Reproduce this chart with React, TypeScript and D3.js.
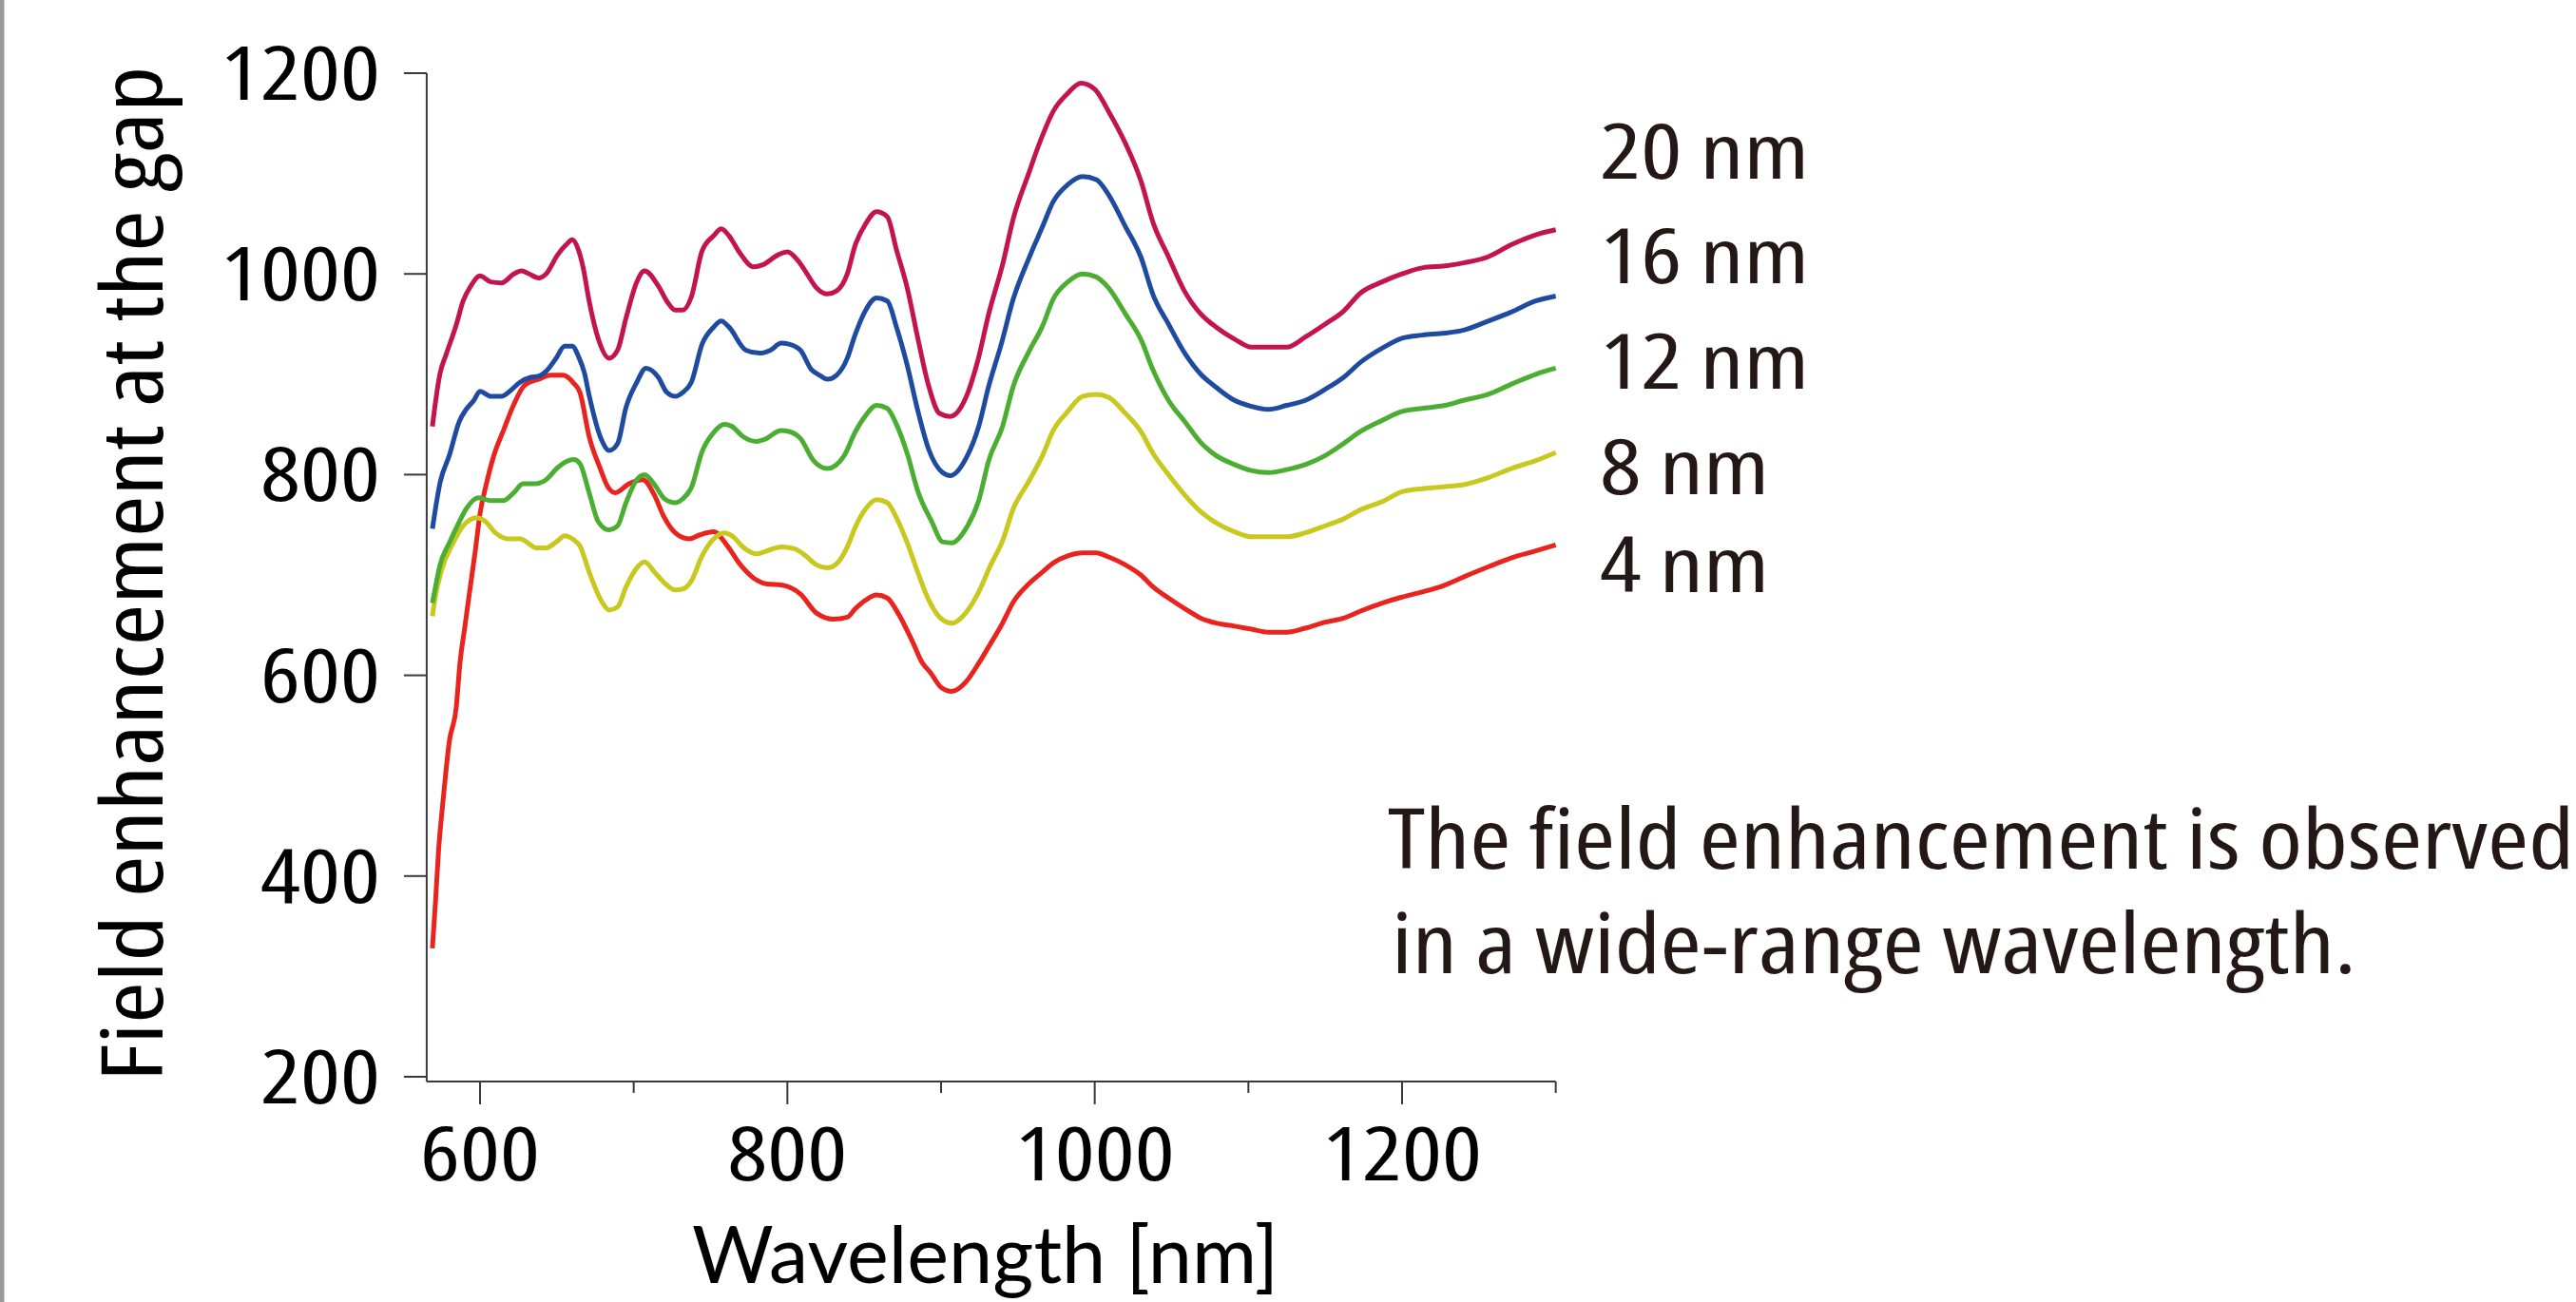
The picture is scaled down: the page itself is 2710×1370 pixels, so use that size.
import * as d3 from 'd3';

// wavelength [nm], field enhancement at the gap
const gap20nm: [number, number][] = [
  [569, 848], [571, 872], [574, 901], [578, 920], [584.5, 949], [589, 973], [594, 988], [600, 998],
  [607, 992], [614, 991], [622, 1000], [627, 1003], [632, 1000], [638, 996], [643, 1000], [650.5, 1019],
  [656, 1029], [660, 1034], [664, 1024], [667, 1007], [671, 973], [677, 935], [684, 916], [689.5, 924],
  [695, 956], [702, 992], [707, 1003], [716, 988], [721.5, 973], [727, 964], [732, 964], [737.5, 977],
  [744.5, 1023], [752, 1038], [757, 1045], [762, 1038], [769, 1021], [778, 1007], [784, 1009], [794, 1019],
  [800, 1022], [807, 1013], [812, 1002], [819, 986], [826, 980], [832, 983], [839, 1000], [844, 1028],
  [851, 1050], [858, 1062], [865, 1057], [871, 1024], [878, 986], [885, 935], [892, 888], [899, 861],
  [906, 858], [916.5, 878], [924, 914], [931, 960], [940, 1009], [947, 1055], [957, 1100], [965, 1134],
  [973, 1162], [982.5, 1180], [991, 1190], [1000, 1184], [1009, 1162], [1020, 1130], [1030, 1093],
  [1038, 1051], [1048, 1017], [1058, 984], [1069, 960], [1079, 947], [1091, 935], [1102, 927],
  [1125, 927], [1137, 937], [1150, 950], [1162, 963], [1173, 981], [1187, 992], [1200, 1000],
  [1213, 1006], [1228, 1008], [1240, 1011], [1256, 1017], [1271, 1029], [1287, 1039], [1300, 1044],
];

const gap16nm: [number, number][] = [
  [569, 746], [571, 766], [574, 792], [580, 819], [586.5, 853], [591, 865], [596, 874], [600, 883],
  [607, 878], [614, 878], [620, 884], [626, 892], [633, 897], [638, 898], [643, 903], [649.5, 916],
  [655, 928], [660, 928], [664, 918], [668, 901], [671, 879], [679, 835], [684, 824], [689.5, 831],
  [695, 867], [702, 892], [708, 906], [716, 897], [721.5, 882], [727, 878], [732, 882], [737.5, 892],
  [744.5, 930], [752, 947], [757, 953], [762, 947], [773, 924], [782, 921], [789, 924], [796, 931],
  [801, 930], [808.5, 924], [815.5, 905], [821, 899], [826, 895], [832, 899], [839, 916], [844, 939],
  [851, 964], [858, 976], [865, 973], [871, 947], [878, 909], [885, 863], [892, 825], [901, 802],
  [906, 799], [916.5, 817], [924.5, 848], [931, 888], [939, 929], [947, 975], [957, 1015], [966, 1047],
  [973, 1072], [982.5, 1089], [992, 1097], [1001, 1094], [1009, 1079], [1020, 1047], [1030, 1017],
  [1038, 979], [1048, 950], [1059, 920], [1069, 900], [1079, 887], [1091, 874], [1102, 868],
  [1113, 865], [1125, 869], [1137, 874], [1150, 885], [1162, 897], [1173, 912], [1187, 926],
  [1200, 936], [1213, 939], [1228, 941], [1240, 944], [1256, 953], [1271, 962], [1287, 973], [1300, 978],
];

const gap12nm: [number, number][] = [
  [569, 672], [571, 688], [574, 710], [580, 732], [586.5, 753], [591, 766], [599, 777], [607, 774],
  [615, 774], [622, 782], [628, 791], [636, 791], [643, 795], [650.5, 807], [656, 813], [661, 815],
  [665, 811], [671, 782], [677, 753], [684, 745], [689.5, 749], [695, 772], [702, 795], [707, 800],
  [714, 789], [720, 776], [727, 772], [732, 776], [737.5, 787], [744.5, 823], [752, 842], [759, 850],
  [764, 848], [771, 838], [780, 833], [785, 835], [796, 844], [801, 843], [808.5, 836], [817, 814],
  [826, 806], [837, 819], [844, 842], [851, 859], [858, 869], [865, 866], [871, 850], [878, 821],
  [885, 783], [894, 753], [901, 733], [907, 732], [916.5, 747], [924.5, 774], [931, 814], [940, 848],
  [947, 888], [957, 922], [966, 948], [973, 975], [982.5, 992], [992, 1000], [1001, 997], [1009, 986],
  [1020, 960], [1030, 935], [1038, 904], [1048, 874], [1059, 852], [1069, 832], [1079, 819],
  [1091, 810], [1102, 804], [1113, 802], [1125, 805], [1137, 810], [1150, 819], [1162, 831],
  [1173, 843], [1187, 854], [1200, 863], [1213, 866], [1228, 869], [1240, 874], [1256, 880],
  [1271, 890], [1287, 900], [1300, 906],
];

const gap8nm: [number, number][] = [
  [569, 659], [571, 679], [575, 705], [582.5, 732], [589, 749], [598, 757], [603, 754], [610, 742],
  [618.5, 736], [626, 736], [637, 727], [643, 727], [650.5, 734], [655, 739], [661, 735], [665, 729],
  [671, 703], [679, 674], [684, 665], [689.5, 668], [695, 688], [702, 707], [707, 713], [714, 702],
  [720, 692], [727, 685], [732, 686], [737.5, 694], [744.5, 719], [752, 736], [759, 742], [764, 739],
  [771, 728], [780, 721], [785, 723], [796, 728], [805, 726], [812, 719], [819, 710], [826, 707],
  [832, 711], [839, 728], [844, 747], [851, 766], [858, 775], [865, 772], [871, 757], [878, 732],
  [885, 702], [892, 675], [899, 658], [907, 652], [916.5, 663], [924.5, 683], [932, 709], [940, 734],
  [947, 766], [957, 793], [966, 819], [973, 844], [982.5, 863], [992, 878], [1001, 880], [1009, 877],
  [1020, 861], [1030, 843], [1038, 821], [1048, 800], [1059, 779], [1069, 763], [1079, 752],
  [1091, 743], [1102, 738], [1125, 738], [1137, 742], [1150, 749], [1162, 756], [1173, 765],
  [1187, 773], [1200, 783], [1213, 786], [1228, 788], [1240, 790], [1256, 797], [1271, 806],
  [1287, 814], [1300, 822],
];

const gap4nm: [number, number][] = [
  [569, 328], [571, 374], [573, 425], [576, 476], [580, 534], [584.5, 568], [587, 613], [590, 647],
  [593, 681], [597, 725], [600, 761], [604, 790], [609, 819], [615.5, 845], [622, 870], [629, 889],
  [638, 895], [646, 899], [654, 899], [661, 891], [665, 882], [671, 838], [678, 807], [683.5, 787],
  [688, 782], [697, 791], [706, 795], [713, 781], [720, 757], [727, 742], [736, 736], [743, 740],
  [752, 743], [760.5, 730], [769, 711], [778, 697], [787, 691], [796, 690], [808.5, 681], [819, 662],
  [830, 656], [839, 658], [844, 666], [851, 675], [858, 680], [865, 677], [872, 662], [881, 635],
  [888, 612], [893, 603], [900, 588], [907, 584], [916.5, 594], [924.5, 612], [932, 631], [940, 652],
  [947, 673], [957, 691], [966, 703], [973, 712], [982.5, 719], [992, 722], [1001, 722], [1009, 718],
  [1020, 710], [1030, 700], [1038, 688], [1048, 677], [1059, 666], [1069, 657], [1079, 652],
  [1091, 649], [1102, 646], [1113, 643], [1125, 643], [1137, 647], [1150, 653], [1162, 657],
  [1173, 664], [1187, 672], [1200, 678], [1213, 683], [1228, 690], [1240, 698], [1256, 708],
  [1271, 717], [1287, 724], [1300, 730],
];

const seriesLabels = ['20 nm', '16 nm', '12 nm', '8 nm', '4 nm'];
const seriesData = [gap20nm, gap16nm, gap12nm, gap8nm, gap4nm];
const seriesColors = ['#c4144f', '#1e4ba0', '#4bae32', '#c8c81e', '#e9231e'];

const yTicks = [200, 400, 600, 800, 1000, 1200];
const xMajorTicks = [600, 800, 1000, 1200];
const xMinorTicks = [700, 900, 1100, 1300];
const noteLines = ['The field enhancement is observed', 'in a wide-range wavelength.'];

const FONT = "'Open Sans', 'Noto Sans', sans-serif";
const STRETCH = { fontStretch: '87.5%' };

// the figure used a narrow face; widths are pinned so the text covers the same span
const digitWidth = 42;
const labelBaselines = [187.5, 298, 409, 520, 623];

export default function App() {
  const width = 2710;
  const height = 1370;

  const x = d3.scaleLinear().domain([600, 1200]).range([505, 1475]);
  const y = d3.scaleLinear().domain([200, 1200]).range([1133, 77]);

  const axisLeft = x(565.3);
  const axisBottom = y(195.3);
  const axisRight = x(1300);

  const line = d3
    .line<[number, number]>()
    .x((d) => x(d[0]))
    .y((d) => y(d[1]))
    .curve(d3.curveMonotoneX);

  // red (4 nm) underneath, 20 nm on top
  const order = [4, 3, 2, 1, 0];

  return (
    <svg
      width={width}
      height={height}
      viewBox={`0 0 ${width} ${height}`}
      style={{ position: 'absolute', left: 0, top: 0, background: '#fff' }}
    >
      <rect x={0} y={0} width={width} height={height} fill="#fff" />
      <rect x={0} y={0} width={4.5} height={height} fill="#9b9b9b" />

      {/* axes */}
      <g stroke="#3a3a3a" strokeWidth={2} fill="none">
        <line x1={axisLeft} x2={axisLeft} y1={y(1200)} y2={axisBottom} />
        <line x1={axisLeft} x2={axisRight} y1={axisBottom} y2={axisBottom} />
        {yTicks.map((t) => (
          <line key={'yt' + t} x1={axisLeft - 24} x2={axisLeft} y1={y(t)} y2={y(t)} />
        ))}
        {xMajorTicks.map((t) => (
          <line key={'xt' + t} x1={x(t)} x2={x(t)} y1={axisBottom} y2={axisBottom + 24} />
        ))}
        {xMinorTicks.map((t) => (
          <line key={'xm' + t} x1={x(t)} x2={x(t)} y1={axisBottom} y2={axisBottom + 12} />
        ))}
      </g>

      <g fontFamily={FONT} fontSize={79} fill="#000" style={STRETCH}>
        {yTicks.map((t) => (
          <text
            key={'yl' + t}
            x={400}
            y={y(t) + 28}
            textAnchor="end"
            textLength={String(t).length * digitWidth}
            lengthAdjust="spacingAndGlyphs"
          >
            {t}
          </text>
        ))}
        {xMajorTicks.map((t) => (
          <text
            key={'xl' + t}
            x={x(t)}
            y={1242}
            textAnchor="middle"
            textLength={String(t).length * digitWidth}
            lengthAdjust="spacingAndGlyphs"
          >
            {t}
          </text>
        ))}
      </g>

      {/* axis titles */}
      <text
        transform="translate(170.5,604) rotate(-90)"
        textAnchor="middle"
        fontFamily={FONT}
        fontSize={90}
        fill="#000"
        style={STRETCH}
        textLength={1068}
        lengthAdjust="spacingAndGlyphs"
      >
        Field enhancement at the gap
      </text>
      <text
        x={1036.5}
        y={1350}
        textAnchor="middle"
        fontFamily="Lato, 'Open Sans', sans-serif"
        fontSize={84}
        fill="#000"
        textLength={617}
        lengthAdjust="spacingAndGlyphs"
      >
        Wavelength [nm]
      </text>

      {/* spectra */}
      <g fill="none" strokeWidth={5} strokeLinejoin="round" strokeLinecap="butt">
        {order.map((i) => (
          <path key={seriesLabels[i]} d={line(seriesData[i]) ?? ''} stroke={seriesColors[i]} />
        ))}
      </g>

      {/* series labels */}
      <g fontFamily={FONT} fontSize={80} fill="#231815" style={STRETCH}>
        {seriesLabels.map((s, i) => (
          <text
            key={'lab' + s}
            x={1683}
            y={labelBaselines[i]}
            textLength={(s.length - 3) * digitWidth + 136}
            lengthAdjust="spacingAndGlyphs"
          >
            {s}
          </text>
        ))}
      </g>

      {/* note */}
      <g fontFamily={FONT} fontSize={87} fill="#231815" style={STRETCH}>
        <text x={1460} y={914} textLength={1248} lengthAdjust="spacingAndGlyphs">
          {noteLines[0]}
        </text>
        <text x={1464} y={1024} textLength={1015} lengthAdjust="spacingAndGlyphs">
          {noteLines[1]}
        </text>
      </g>
    </svg>
  );
}
